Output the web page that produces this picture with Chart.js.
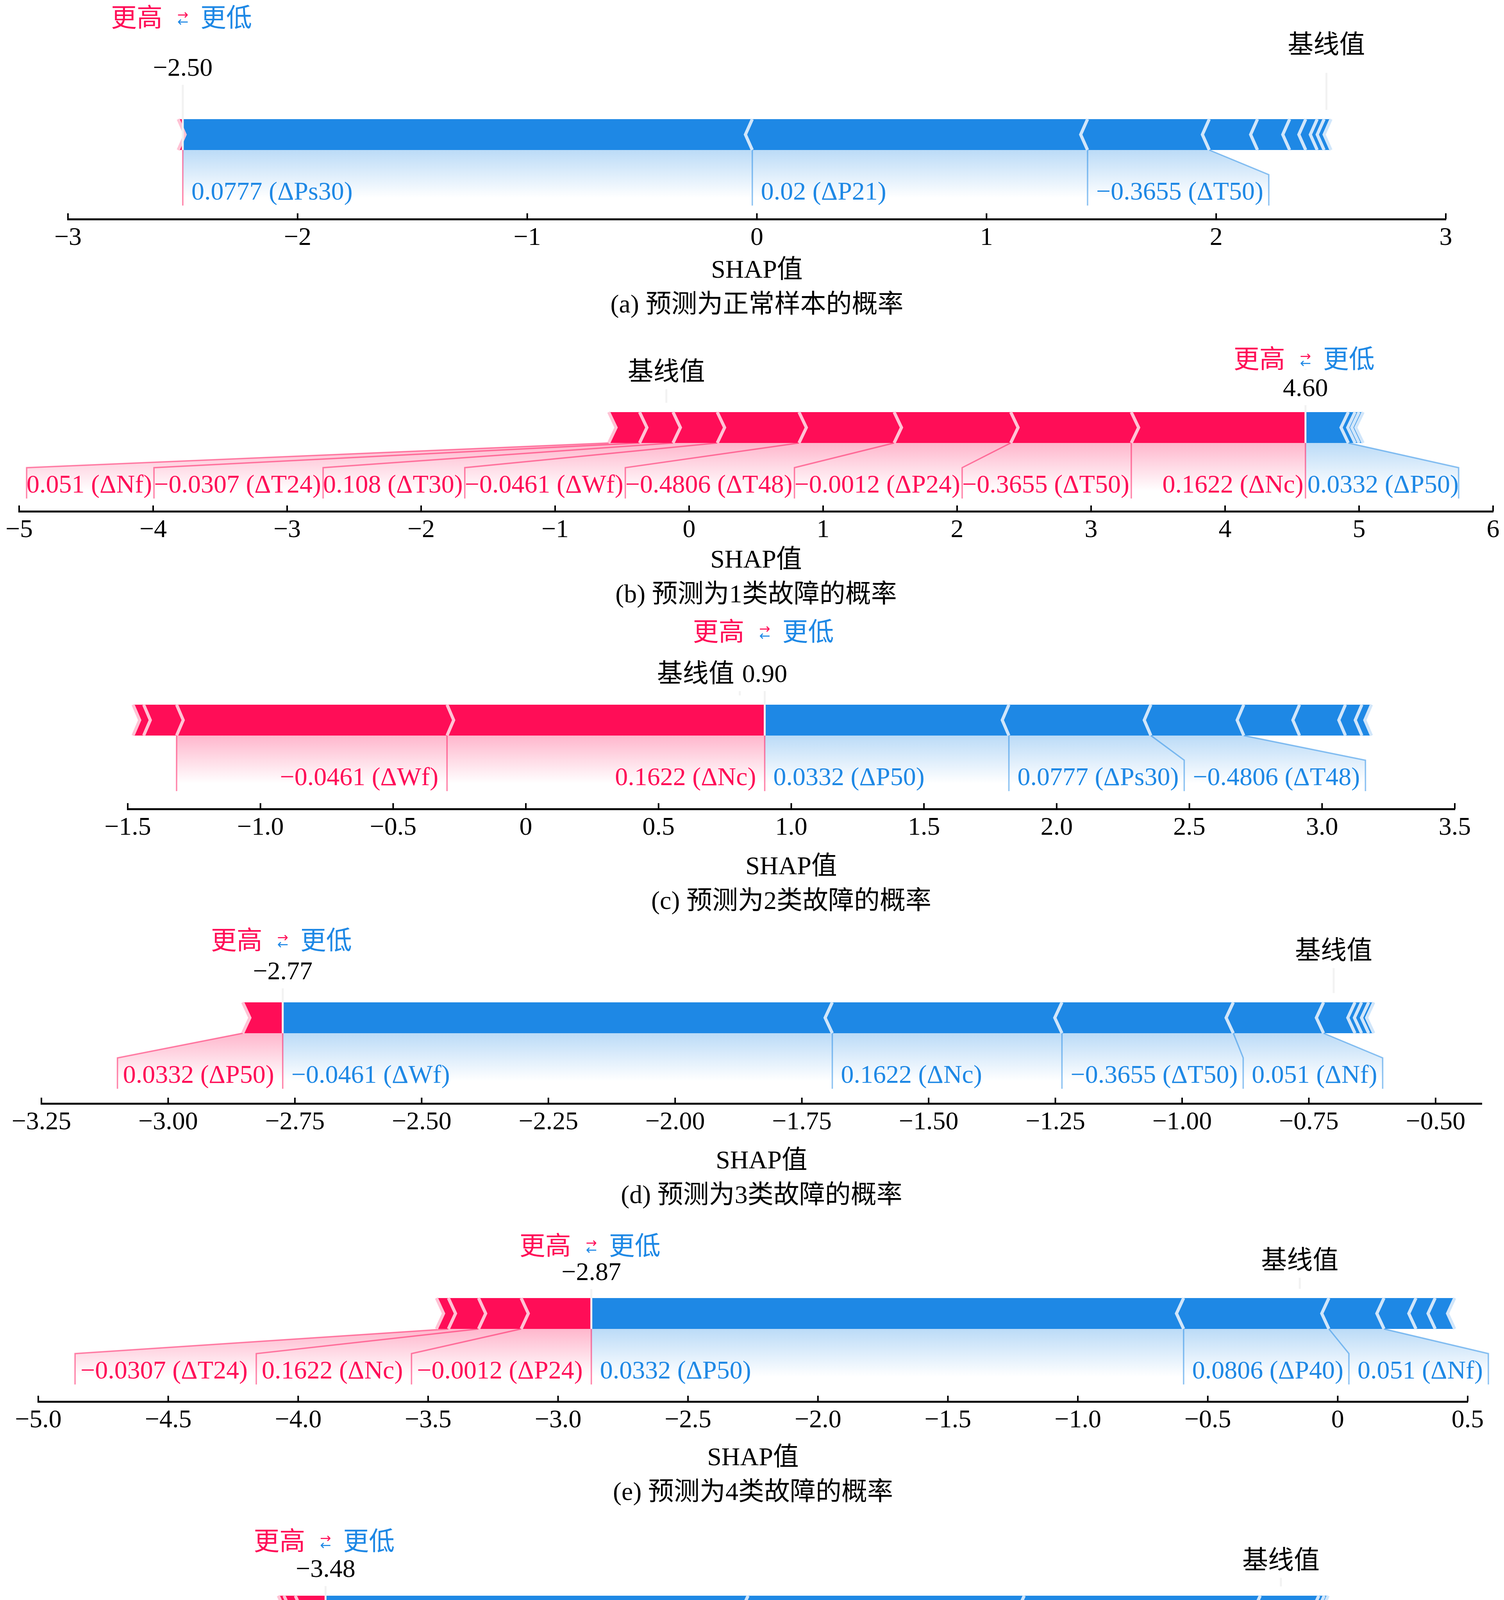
<!DOCTYPE html>
<html><head><meta charset="utf-8">
<script src="https://cdn.jsdelivr.net/npm/chart.js@4.4.1/dist/chart.umd.min.js"></script>
<style>
html,body{margin:0;padding:0;background:#fff;}
body{width:3850px;height:5415px;position:relative;overflow:hidden;}
canvas{position:absolute;left:0;}
</style></head><body>
<script>
// ================= DATA =================
const captions = ['(a) 预测为正常样本的概率','(b) 预测为1类故障的概率','(c) 预测为2类故障的概率',
  '(d) 预测为3类故障的概率','(e) 预测为4类故障的概率','(f) 预测为5类故障的概率','(g) 预测为6类故障的概率'];
const axisTitle = 'SHAP值';
const baseLabel = '基线值';
const higherLabel = '更高', lowerLabel = '更低';

// (a)
const aOut = -2.50;
const aRed = [0.02];
const aRedLabels = [null];
const aBlue = [2.48, 1.46, 0.53, 0.21, 0.14, 0.07, 0.05, 0.03, 0.03];
const aBlueLabels = ['0.0777 (ΔPs30)', '0.02 (ΔP21)', '−0.3655 (ΔT50)', null, null, null, null, null, null];
const aRange = [-3, 3];
const aTickValues = [-3, -2, -1, 0, 1, 2, 3];
const aTickLabels = ['−3', '−2', '−1', '0', '1', '2', '3'];

// (b)
const bOut = 4.60;
const bRed = [1.30, 0.90, 0.87, 0.71, 0.61, 0.33, 0.25, 0.23];
const bRedLabels = ['0.1622 (ΔNc)', '−0.3655 (ΔT50)', '−0.0012 (ΔP24)', '−0.4806 (ΔT48)', '−0.0461 (ΔWf)', '0.108 (ΔT30)', '−0.0307 (ΔT24)', '0.051 (ΔNf)'];
const bBlue = [0.32, 0.05, 0.03, 0.03];
const bBlueLabels = ['0.0332 (ΔP50)', null, null, null];
const bRange = [-5, 6];
const bTickValues = [-5, -4, -3, -2, -1, 0, 1, 2, 3, 4, 5, 6];
const bTickLabels = ['−5', '−4', '−3', '−2', '−1', '0', '1', '2', '3', '4', '5', '6'];

// (c)
const cOut = 0.90;
const cRed = [1.197, 1.019, 0.124, 0.04];
const cRedLabels = ['0.1622 (ΔNc)', '−0.0461 (ΔWf)', null, null];
const cBlue = [0.92, 0.535, 0.35, 0.21, 0.173, 0.062, 0.036];
const cBlueLabels = ['0.0332 (ΔP50)', '0.0777 (ΔPs30)', '−0.4806 (ΔT48)', null, null, null, null];
const cRange = [-1.5, 3.5];
const cTickValues = [-1.5, -1.0, -0.5, 0, 0.5, 1.0, 1.5, 2.0, 2.5, 3.0, 3.5];
const cTickLabels = ['−1.5', '−1.0', '−0.5', '0', '0.5', '1.0', '1.5', '2.0', '2.5', '3.0', '3.5'];

// (d)
const dOut = -2.774;
const dRed = [0.079];
const dRedLabels = ['0.0332 (ΔP50)'];
const dBlue = [1.084, 0.453, 0.338, 0.178, 0.062, 0.013, 0.014, 0.010];
const dBlueLabels = ['−0.0461 (ΔWf)', '0.1622 (ΔNc)', '−0.3655 (ΔT50)', '0.051 (ΔNf)', null, null, null, null];
const dRange = [-3.25, -0.409];
const dTickValues = [-3.25, -3.00, -2.75, -2.50, -2.25, -2.00, -1.75, -1.50, -1.25, -1.00, -0.75, -0.50];
const dTickLabels = ['−3.25', '−3.00', '−2.75', '−2.50', '−2.25', '−2.00', '−1.75', '−1.50', '−1.25', '−1.00', '−0.75', '−0.50'];

// (e)
const eOut = -2.872;
const eRed = [0.27, 0.164, 0.116, 0.046];
const eRedLabels = ['−0.0012 (ΔP24)', '0.1622 (ΔNc)', '−0.0307 (ΔT24)', null];
const eBlue = [2.279, 0.559, 0.212, 0.123, 0.074, 0.075];
const eBlueLabels = ['0.0332 (ΔP50)', '0.0806 (ΔP40)', '0.051 (ΔNf)', null, null, null];
const eRange = [-5.0, 0.5];
const eTickValues = [-5.0, -4.5, -4.0, -3.5, -3.0, -2.5, -2.0, -1.5, -1.0, -0.5, 0, 0.5];
const eTickLabels = ['−5.0', '−4.5', '−4.0', '−3.5', '−3.0', '−2.5', '−2.0', '−1.5', '−1.0', '−0.5', '0', '0.5'];

// (f)
const fOut = -3.478;
const fRed = [0.107, 0.04, 0.02];
const fRedLabels = ['−0.3655 (ΔT50)', null, null];
const fBlue = [1.493, 0.976, 0.834, 0.207, 0.019, 0.014];
const fBlueLabels = ['0.0332 (ΔP50)', '−0.0012 (ΔP24)', '0.108 (ΔT30)', '−0.0461 (ΔWf)', null, null];
const fRange = [-4.5, 0.5];
const fTickValues = [-4.5, -4.0, -3.5, -3.0, -2.5, -2.0, -1.5, -1.0, -0.5, 0, 0.5];
const fTickLabels = ['−4.5', '−4.0', '−3.5', '−3.0', '−2.5', '−2.0', '−1.5', '−1.0', '−0.5', '0', '0.5'];

// (g)
const gOut = -1.511;
const gRed = [0.172, 0.156, 0.093];
const gRedLabels = ['0.1622 (ΔNc)', '−0.0461 (ΔWf)', '0.108 (ΔT30)'];
const gBlue = [0.647, 0.555, 0.269, 0.205, 0.046, 0.036, 0.015, 0.011, 0.009];
const gBlueLabels = ['−0.0012 (ΔP24)', '−0.4806 (ΔT48)', '0.0332 (ΔP59)', '−0.3655 (ΔT50)', null, null, null, null, null];
const gRange = [-3.0, 0.5];
const gTickValues = [-3.0, -2.5, -2.0, -1.5, -1.0, -0.5, 0, 0.5];
const gTickLabels = ['−3.0', '−2.5', '−2.0', '−1.5', '−1.0', '−0.5', '0', '0.5'];

// ================= PANELS (built from the arrays above) =================
const PANELS = [
  {id:'a', out:aOut, red:aRed, redLabels:aRedLabels, blue:aBlue, blueLabels:aBlueLabels, range:aRange, ticks:aTickValues, tickLabels:aTickLabels, caption:captions[0]},
  {id:'b', out:bOut, red:bRed, redLabels:bRedLabels, blue:bBlue, blueLabels:bBlueLabels, range:bRange, ticks:bTickValues, tickLabels:bTickLabels, caption:captions[1]},
  {id:'c', out:cOut, red:cRed, redLabels:cRedLabels, blue:cBlue, blueLabels:cBlueLabels, range:cRange, ticks:cTickValues, tickLabels:cTickLabels, caption:captions[2]},
  {id:'d', out:dOut, red:dRed, redLabels:dRedLabels, blue:dBlue, blueLabels:dBlueLabels, range:dRange, ticks:dTickValues, tickLabels:dTickLabels, caption:captions[3]},
  {id:'e', out:eOut, red:eRed, redLabels:eRedLabels, blue:eBlue, blueLabels:eBlueLabels, range:eRange, ticks:eTickValues, tickLabels:eTickLabels, caption:captions[4]},
  {id:'f', out:fOut, red:fRed, redLabels:fRedLabels, blue:fBlue, blueLabels:fBlueLabels, range:fRange, ticks:fTickValues, tickLabels:fTickLabels, caption:captions[5]},
  {id:'g', out:gOut, red:gRed, redLabels:gRedLabels, blue:gBlue, blueLabels:gBlueLabels, range:gRange, ticks:gTickValues, tickLabels:gTickLabels, caption:captions[6]},
];

// ================= LAYOUT / STYLE =================
const LAYOUT = {
  a: {barBottom:384,  axisY:561,  axisL:174, axisR:3701, higherDy:316, outDy:190, baseDy:248, capDy:244},
  b: {barBottom:1134, axisY:1309, axisL:49,  axisR:3822, higherDy:192, outDy:120, baseDy:161, capDy:238},
  c: {barBottom:1883, axisY:2071, axisL:327, axisR:3724, higherDy:243, outDy:137, baseDy:137, capDy:261},
  d: {barBottom:2645, axisY:2825, axisL:106, axisR:3793, higherDy:215, outDy:138, baseDy:190, capDy:260},
  e: {barBottom:3402, axisY:3588, axisL:98,  axisR:3757, higherDy:190, outDy:125, baseDy:154, capDy:257},
  f: {barBottom:4164, axisY:4341, axisL:93,  axisR:3715, higherDy:196, outDy:127, baseDy:148, capDy:256},
  g: {barBottom:4928, axisY:5118, axisL:107, axisR:3781, higherDy:197, outDy:123, baseDy:168, capDy:257},
};
const W = 3850, TOPPAD = 420, PX_PER_UNIT = 790, BAR_W = 0.1, LABEL_Y = -0.161;
const FS = 66;
const FONT = "'Liberation Serif', 'Times New Roman', 'Noto Sans CJK SC', serif";
const RED = '#FF0D57', BLUE = '#1E88E5', RED_SEP = '#FFC3D5', BLUE_SEP = '#D1E6FA';
const RED_RGB = '255,13,87', BLUE_RGB = '30,136,229';
const LABEL_FIT = [{off:22, gap:14}, {off:12, gap:4}, {off:5, gap:0}];

function fmt(v) { return v.toFixed(2).replace('-', '−'); }

function layoutLabels(ctx, segs, positive, ox, X, prm) {
  let start = ox, boxEnd = ox, preVal = ox;
  const texts = [], lines = [];
  let minX = Infinity, maxX = -Infinity;
  if (positive) lines.push([[ox, 0], [ox, -0.18]]);
  for (const s of segs) {
    if (!s.label) break;
    const valPx = positive ? X(s.l) : X(s.r);
    const w = ctx.measureText(s.label).width;
    let tL, tR;
    if (positive) { tR = start - prm.off; tL = tR - w; } else { tL = start + prm.off; tR = tL + w; }
    texts.push({text: s.label, x: positive ? tR : tL, align: positive ? 'right' : 'left'});
    minX = Math.min(minX, tL); maxX = Math.max(maxX, tR);
    const edge = positive ? tL - prm.gap : tR + prm.gap;
    const fits = positive ? edge > valPx : edge < valPx;
    if (fits) {
      lines.push([[valPx, 0], [valPx, -0.18]]); start = valPx; boxEnd = valPx;
    } else {
      boxEnd = edge; lines.push([[valPx, 0], [boxEnd, -0.08], [boxEnd, -0.18]]); start = boxEnd;
    }
    preVal = valPx;
  }
  return {texts, lines, preVal, boxEnd, minX, maxX};
}

function makeForcePlugin(P) {
  return {
    id: 'forceplot',
    afterDraw(chart) {
      const ctx = chart.ctx, xs = chart.scales.x, ys = chart.scales.y;
      const L = LAYOUT[P.id];
      const X = v => xs.getPixelForValue(v);
      const Y = v => ys.getPixelForValue(v);
      const sum = arr => arr.reduce((s, v) => s + v, 0);
      const out = P.out, ox = X(out);
      const base = out - sum(P.red) + sum(P.blue);
      const ind = (P.range[1] - P.range[0]) / 200;
      const red = [], blue = [];
      let pre = out;
      P.red.forEach((w, i) => { red.push({l: pre - w, r: pre, label: P.redLabels[i]}); pre -= w; });
      pre = out;
      P.blue.forEach((w, i) => { blue.push({l: pre, r: pre + w, label: P.blueLabels[i]}); pre += w; });

      ctx.save();
      ctx.font = `${FS}px ${FONT}`;
      let lr, lb;
      for (const prm of LABEL_FIT) {
        lr = layoutLabels(ctx, red, true, ox, X, prm);
        lb = layoutLabels(ctx, blue, false, ox, X, prm);
        if (lr.minX >= 12 && lb.maxX <= W - 12) break;
      }
      // shading under labels
      [[lr, RED_RGB], [lb, BLUE_RGB]].forEach(([l, rgb]) => {
        if (!l.texts.length) return;
        const g = ctx.createLinearGradient(0, Y(0), 0, Y(-0.155));
        g.addColorStop(0, `rgba(${rgb},0.3)`);
        g.addColorStop(1, 'rgba(255,255,255,0.3)');
        ctx.fillStyle = g;
        ctx.beginPath();
        ctx.moveTo(ox, Y(0)); ctx.lineTo(l.preVal, Y(0)); ctx.lineTo(l.boxEnd, Y(-0.08));
        ctx.lineTo(l.boxEnd, Y(-0.2)); ctx.lineTo(ox, Y(-0.2)); ctx.closePath(); ctx.fill();
      });
      // label connector lines
      [[lr, RED], [lb, BLUE]].forEach(([l, col]) => {
        ctx.strokeStyle = col; ctx.globalAlpha = 0.5; ctx.lineWidth = 3.5; ctx.lineJoin = 'miter';
        l.lines.forEach(pts => {
          ctx.beginPath();
          pts.forEach(([x, y], k) => k ? ctx.lineTo(x, Y(y)) : ctx.moveTo(x, Y(y)));
          ctx.stroke();
        });
        ctx.globalAlpha = 1;
      });
      // bars
      const poly = (pts, col) => {
        ctx.fillStyle = col; ctx.beginPath();
        pts.forEach(([x, y], k) => k ? ctx.lineTo(X(x), Y(y)) : ctx.moveTo(X(x), Y(y)));
        ctx.closePath(); ctx.fill();
      };
      const bw = BAR_W;
      red.forEach((s, i) => {
        const pts = i === 0
          ? [[s.l,0],[s.r,0],[s.r,bw],[s.l,bw],[s.l+ind,bw/2]]
          : [[s.l,0],[s.r,0],[s.r+0.9*ind,bw/2],[s.r,bw],[s.l,bw],[s.l+0.9*ind,bw/2]];
        poly(pts, RED);
      });
      blue.forEach((s, i) => {
        const ni = -ind;
        const pts = i === 0
          ? [[s.r,0],[s.l,0],[s.l,bw],[s.r,bw],[s.r+ni,bw/2]]
          : [[s.l,0],[s.r,0],[s.r+0.9*ni,bw/2],[s.r,bw],[s.l,bw],[s.l+0.9*ni,bw/2]];
        poly(pts, BLUE);
      });
      // separators
      const pline = (pts, col, lw) => {
        ctx.strokeStyle = col; ctx.lineWidth = lw; ctx.beginPath();
        pts.forEach(([x, y], k) => k ? ctx.lineTo(X(x), Y(y)) : ctx.moveTo(X(x), Y(y)));
        ctx.stroke();
      };
      red.forEach(s => pline([[s.l,0],[s.l+ind,bw/2],[s.l,bw]], RED_SEP, 8));
      blue.forEach(s => pline([[s.r,0],[s.r-ind,bw/2],[s.r,bw]], BLUE_SEP, 8));
      // output and base lines
      pline([[out,0],[out,0.24]], '#F2F2F2', 5);
      pline([[base,0.13],[base,0.25]], '#F2F2F2', 5);

      // feature labels
      ctx.textBaseline = 'alphabetic';
      ctx.font = `${FS}px ${FONT}`;
      lr.texts.forEach(t => { ctx.fillStyle = RED; ctx.textAlign = t.align; ctx.fillText(t.text, t.x, Y(LABEL_Y)); });
      lb.texts.forEach(t => { ctx.fillStyle = BLUE; ctx.textAlign = t.align; ctx.fillText(t.text, t.x, Y(LABEL_Y)); });

      // out value + base value texts with white boxes
      const whiteBox = (cx, y, w) => {
        ctx.fillStyle = '#fff';
        ctx.fillRect(cx - w/2 - 9, y - 0.891*FS - 9, w + 18, 1.107*FS + 18);
      };
      const outStr = fmt(out);
      const outW = ctx.measureText(outStr).width;
      const outY = Y(L.outDy / PX_PER_UNIT);
      const baseW = ctx.measureText(baseLabel).width;
      const baseY = Y(L.baseDy / PX_PER_UNIT);
      let bx = X(base);
      if (Math.abs(baseY - outY) < FS && Math.abs(bx - ox) < (baseW + outW) / 2 + 20) {
        bx = bx < ox ? ox - outW/2 - 20 - baseW/2 : ox + outW/2 + 20 + baseW/2;
      }
      ctx.textAlign = 'center';
      whiteBox(bx, baseY, baseW); ctx.fillStyle = '#000'; ctx.fillText(baseLabel, bx, baseY);
      whiteBox(ox, outY, outW); ctx.fillStyle = '#000'; ctx.fillText(outStr, ox, outY);

      // higher / lower legend
      const hy = Y(L.higherDy / PX_PER_UNIT);
      ctx.textAlign = 'right'; ctx.fillStyle = RED; ctx.fillText(higherLabel, ox - 52, hy);
      ctx.textAlign = 'left'; ctx.fillStyle = BLUE; ctx.fillText(lowerLabel, ox + 45, hy);
      ctx.font = "34px 'DejaVu Sans'"; ctx.textAlign = 'center';
      ctx.fillStyle = RED; ctx.fillText('→', ox, hy - 19);
      ctx.fillStyle = BLUE; ctx.fillText('←', ox, hy - 1);

      // tick marks pointing up from the axis line
      const ay = chart.chartArea.bottom;
      ctx.strokeStyle = '#000'; ctx.lineWidth = 4;
      P.ticks.forEach(v => { const x = X(v); ctx.beginPath(); ctx.moveTo(x, ay); ctx.lineTo(x, ay - 15); ctx.stroke(); });
      ctx.restore();
    }
  };
}

PANELS.forEach(P => {
  const L = LAYOUT[P.id];
  const top = L.barBottom - TOPPAD;
  const axisC = TOPPAD + (L.axisY - L.barBottom);
  const H = Math.round(axisC + L.capDy + 22);
  const cv = document.createElement('canvas');
  cv.width = W; cv.height = H;
  cv.style.top = top + 'px'; cv.style.width = W + 'px'; cv.style.height = H + 'px';
  document.body.appendChild(cv);
  const yMax = TOPPAD / PX_PER_UNIT, yMin = -(axisC - TOPPAD) / PX_PER_UNIT;
  const scaleH = H - axisC;
  new Chart(cv.getContext('2d'), {
    type: 'scatter',
    data: {datasets: []},
    options: {
      responsive: false, animation: false, devicePixelRatio: 1,
      events: [],
      layout: {padding: {left: L.axisL, right: W - L.axisR, top: 0, bottom: 0}},
      plugins: {legend: {display: false}, tooltip: {enabled: false}, title: {display: false}},
      scales: {
        x: {
          type: 'linear', position: 'bottom', min: P.range[0], max: P.range[1],
          afterBuildTicks: ax => { ax.ticks = P.ticks.map(v => ({value: v})); },
          afterFit: s => { s.height = scaleH; s.paddingLeft = 0; s.paddingRight = 0; s.paddingTop = 0; s.paddingBottom = 0; },
          ticks: {
            callback: (v, i) => P.tickLabels[i],
            font: {family: FONT, size: FS}, color: '#000', padding: 9,
            maxRotation: 0, minRotation: 0, autoSkip: false
          },
          grid: {display: true, drawOnChartArea: false, drawTicks: false},
          border: {display: true, color: '#000', width: 5},
          title: {display: true, text: [axisTitle, P.caption], color: '#000',
                  font: {family: FONT, size: FS, lineHeight: 89 / FS}, padding: {top: 0, bottom: 0}}
        },
        y: {type: 'linear', display: false, min: yMin, max: yMax}
      }
    },
    plugins: [makeForcePlugin(P)]
  });
});
</script>
</body></html>
